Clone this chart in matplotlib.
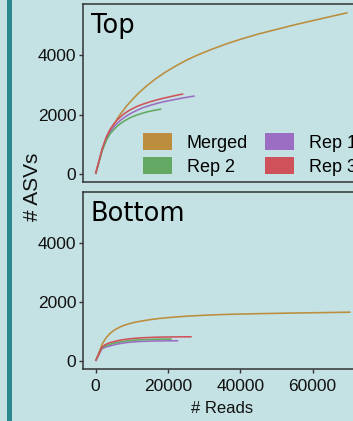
import matplotlib
matplotlib.use("Agg")
import matplotlib.pyplot as plt
from matplotlib.patches import Patch, Rectangle

# ---------------- data ----------------
series_names = ["Merged", "Rep 1", "Rep 2", "Rep 3"]
series_colors = {"Merged": "#bb8d3c", "Rep 1": "#9c6ec3", "Rep 2": "#63a863", "Rep 3": "#cf525b"}

# Top panel
top_merged_x = [0, 2000, 3000, 4000, 5000, 6000, 7000, 8500, 10000, 12000, 14000, 16500, 19000, 22000,
                25000, 28000, 32000, 36000, 40000, 45000, 50000, 55000, 60000, 65000, 69700]
top_merged_y = [0, 880, 1180, 1440, 1660, 1860, 2040, 2280, 2490, 2740, 2960, 3200, 3410, 3630,
                3830, 4000, 4200, 4380, 4540, 4720, 4875, 5030, 5170, 5310, 5440]
top_rep1_x = [0, 1800, 3000, 4000, 5000, 6000, 7000, 8000, 9000, 10000, 11500, 13000, 15000, 17000,
              19000, 21500, 24500, 27400]
top_rep1_y = [0, 800, 1200, 1420, 1580, 1710, 1820, 1910, 1990, 2060, 2150, 2230, 2310, 2380,
              2440, 2500, 2570, 2630]
top_rep2_x = [0, 1800, 3000, 4000, 5000, 6000, 7000, 8000, 9000, 10000, 11500, 13000, 14500, 16000, 18200]
top_rep2_y = [0, 780, 1140, 1350, 1490, 1610, 1710, 1790, 1860, 1920, 1990, 2050, 2100, 2140, 2190]
top_rep3_x = [0, 1800, 3000, 4000, 5000, 6000, 7000, 8000, 9000, 10000, 11500, 13000, 15000, 17000,
              19000, 21500, 24260]
top_rep3_y = [0, 840, 1260, 1500, 1680, 1820, 1940, 2040, 2120, 2190, 2280, 2350, 2430, 2500,
              2560, 2630, 2700]

# Bottom panel
bot_merged_x = [0, 1900, 3000, 4000, 5000, 6000, 7000, 8000, 9500, 11000, 13000, 15000, 17500, 20000,
                23000, 26000, 30000, 35000, 40000, 46000, 52000, 58000, 64000, 70500]
bot_merged_y = [0, 590, 800, 935, 1030, 1105, 1165, 1215, 1270, 1315, 1360, 1400, 1440, 1470,
                1500, 1525, 1550, 1575, 1592, 1607, 1620, 1632, 1643, 1655]
bot_rep1_x = [0, 1700, 2500, 3200, 4000, 5000, 6000, 7500, 9000, 11000, 13000, 16000, 19000, 22880]
bot_rep1_y = [0, 410, 455, 485, 510, 545, 572, 605, 630, 650, 665, 676, 682, 686]
bot_rep2_x = [0, 1700, 2500, 3200, 4000, 5000, 6000, 7500, 9000, 11000, 13000, 16000, 18500, 21050]
bot_rep2_y = [0, 440, 500, 535, 565, 600, 628, 660, 685, 707, 722, 734, 740, 743]
bot_rep3_x = [0, 1800, 2500, 3200, 4000, 5000, 6000, 7500, 9000, 11000, 13000, 16000, 19000, 22500, 26580]
bot_rep3_y = [0, 470, 540, 585, 620, 655, 685, 720, 745, 770, 787, 803, 812, 817, 821]

panels = {
    "Top": {
        "Merged": (top_merged_x, top_merged_y),
        "Rep 1": (top_rep1_x, top_rep1_y),
        "Rep 2": (top_rep2_x, top_rep2_y),
        "Rep 3": (top_rep3_x, top_rep3_y),
    },
    "Bottom": {
        "Merged": (bot_merged_x, bot_merged_y),
        "Rep 1": (bot_rep1_x, bot_rep1_y),
        "Rep 2": (bot_rep2_x, bot_rep2_y),
        "Rep 3": (bot_rep3_x, bot_rep3_y),
    },
}

x_ticks = [0, 20000, 40000, 60000]
y_ticks = [0, 2000, 4000]
x_label = "# Reads"
y_label = "# ASVs"

# ---------------- figure ----------------
W, H = 353, 421
bg = "#c4e1e3"
frame_col = "#333333"
fig = plt.figure(figsize=(W / 100, H / 100), dpi=100, facecolor=bg)

fig.patches.append(Rectangle((7 / W, 0), 5 / W, 1, transform=fig.transFigure,
                             facecolor="#29878d", edgecolor="none", zorder=0))

left_px, width_px = 83, 278.4
ax_top = fig.add_axes([left_px / W, (H - 182) / H, width_px / W, 178 / H])
ax_bot = fig.add_axes([left_px / W, (H - 369) / H, width_px / W, 177 / H])

tick_font = dict(family=["Liberation Sans Narrow", "Liberation Sans"], size=12.5)

for name, ax in (("Top", ax_top), ("Bottom", ax_bot)):
    ax.set_facecolor(bg)
    for s in series_names:
        xs, ys = panels[name][s]
        ax.plot(xs, ys, color=series_colors[s], lw=1.15, solid_capstyle="butt",
                solid_joinstyle="round")
    ax.set_xlim(-3480, 73500)
    ax.set_ylim(-273, 5733)
    ax.set_yticks(y_ticks)
    ax.set_yticklabels([str(v) for v in y_ticks], fontdict=tick_font, color="#111111")
    for sp in ax.spines.values():
        sp.set_color(frame_col)
        sp.set_linewidth(1.1)
    ax.tick_params(axis="both", color=frame_col, width=1.0, length=3.0, pad=1.8)
    ax.text(0.027, 0.835, name, transform=ax.transAxes, fontsize=18.5,
            family="DejaVu Sans", color="black", va="baseline", ha="left")

ax_top.set_xticks([])
ax_bot.set_xticks(x_ticks)
ax_bot.set_xticklabels([str(v) for v in x_ticks], fontdict=tick_font, color="#111111")
ax_bot.tick_params(axis="x", pad=4.5)

ax_bot.set_xlabel(x_label, fontsize=12, family=["Liberation Sans Narrow", "Liberation Sans"],
                  color="#111111", labelpad=5)

fig.text(32 / W, 1 - 186.5 / H, y_label, rotation=90, fontsize=15, family="Liberation Sans",
         color="#111111", ha="center", va="center")

# legend (column-wise order: Merged, Rep 2 | Rep 1, Rep 3)
leg_order = ["Merged", "Rep 2", "Rep 1", "Rep 3"]
handles = [Patch(facecolor=series_colors[s], edgecolor="none") for s in leg_order]
fs = 13
fs_px = fs * 100 / 72
leg = ax_top.legend(handles, leg_order, ncol=2, frameon=False,
                    prop=dict(family="Liberation Sans", size=fs),
                    loc="center left",
                    bbox_to_anchor=((143 - left_px) / width_px, (182 - 154.3) / 178),
                    borderpad=0, borderaxespad=0,
                    handlelength=29 / fs_px, handleheight=20 / fs_px,
                    handletextpad=15 / fs_px, columnspacing=17 / fs_px,
                    labelspacing=0.3)

fig.savefig("out.png", dpi=100, facecolor=bg)
